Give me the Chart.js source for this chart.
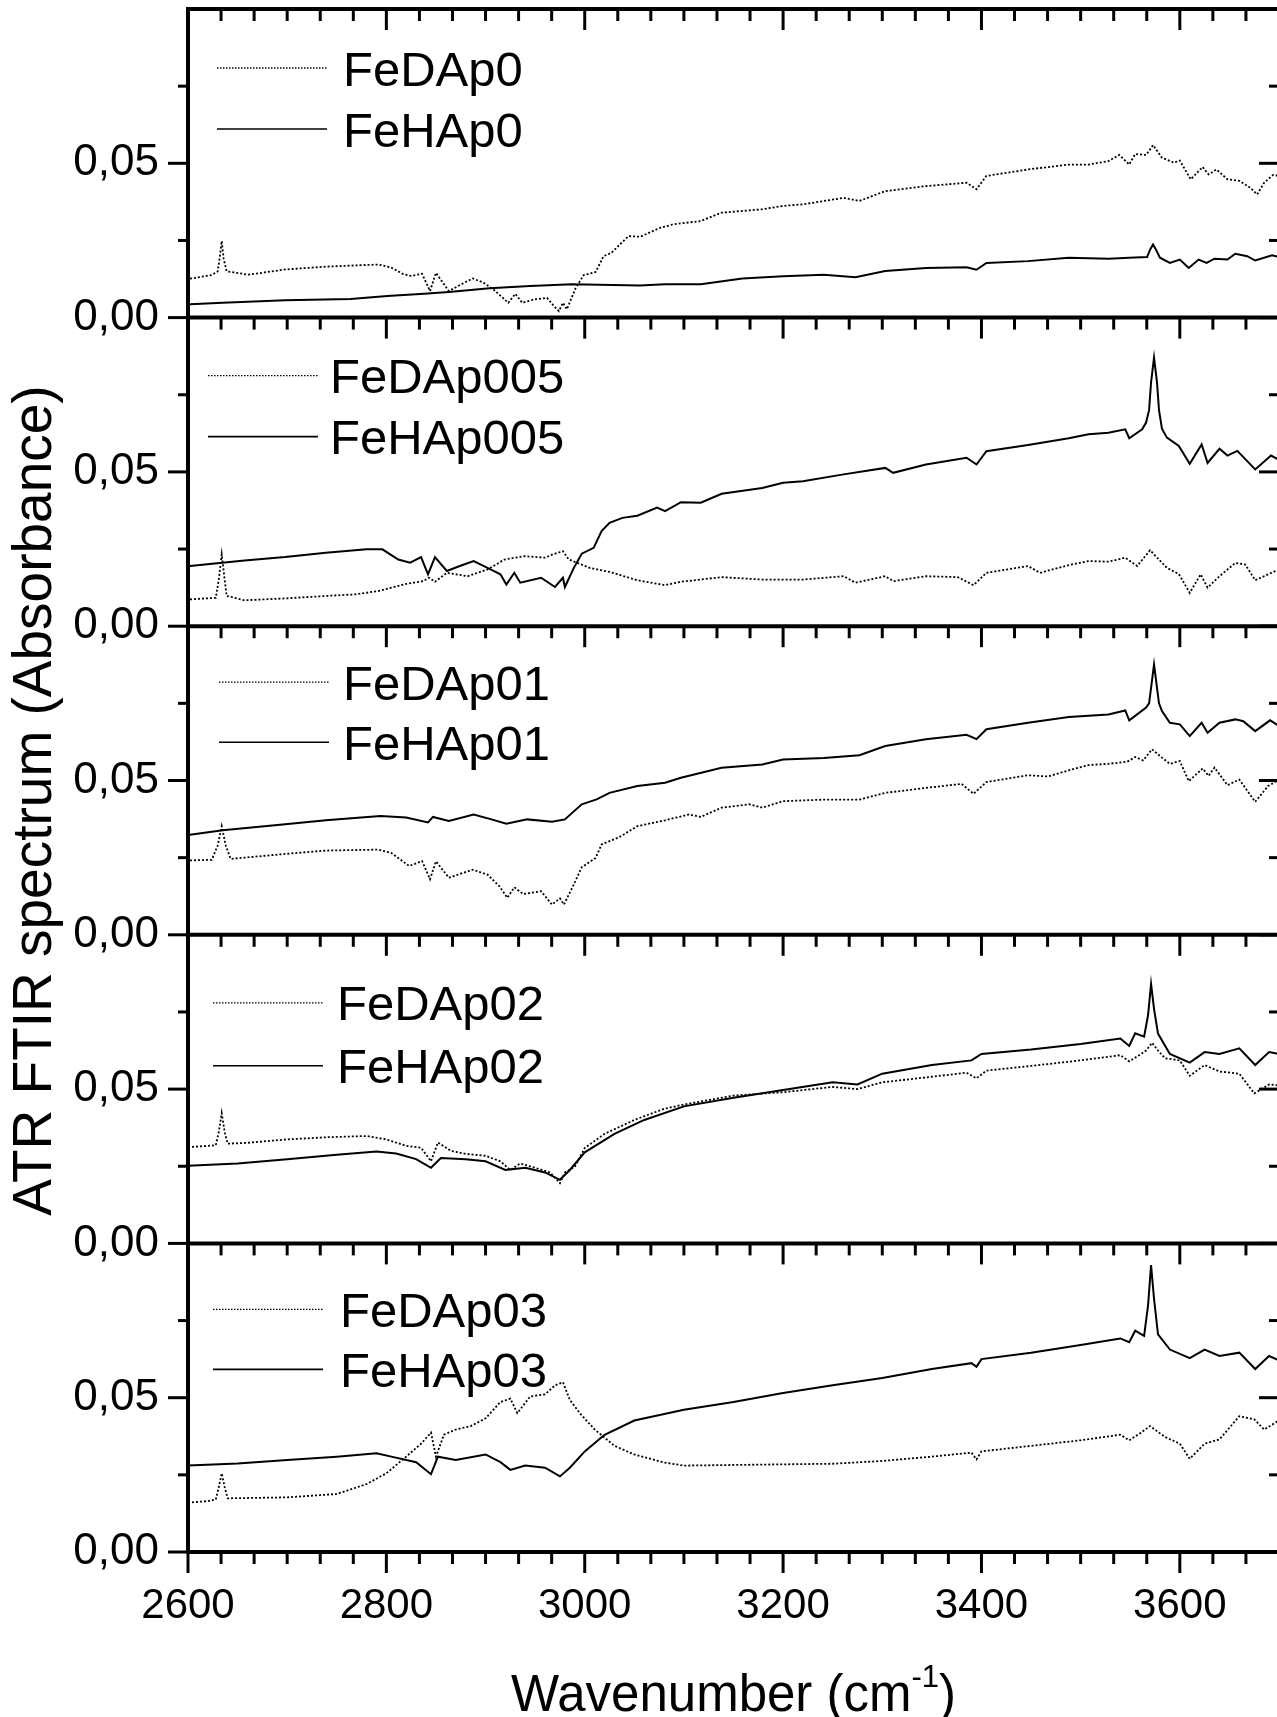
<!DOCTYPE html>
<html><head><meta charset="utf-8">
<script src="https://cdn.jsdelivr.net/npm/chart.js@4.4.1/dist/chart.umd.min.js"></script>
<style>
html,body{margin:0;padding:0;background:#fff;overflow:hidden;width:1277px;height:1717px}
#wrap{position:absolute;left:0;top:0;width:1290px;height:1717px}
canvas{display:block}
</style></head>
<body><div id="wrap"><canvas id="c" width="1290" height="1717"></canvas></div>
<script>
// ---------------- DATA ----------------
const legendNames = [
  ['FeDAp0','FeHAp0'],
  ['FeDAp005','FeHAp005'],
  ['FeDAp01','FeHAp01'],
  ['FeDAp02','FeHAp02'],
  ['FeDAp03','FeHAp03']
];
const xTickValues = [2600, 2800, 3000, 3200, 3400, 3600];
const xTickLabels = ['2600', '2800', '3000', '3200', '3400', '3600'];
const yTickValues = [0, 0.05];
const yTickLabels = ['0,00', '0,05'];
const xTitle = 'Wavenumber (cm';
const xTitleSup = '-1';
const yTitle = 'ATR FTIR spectrum (Absorbance)';

// Panel 1
const feDAp0_x = [2602,2624,2630,2632,2634,2636,2639,2661,2698,2739,2768,2792,2805,2817,2825,2836,2844,2850,2857,2863,2875,2887,2898,2908,2923,2930,2937,2949,2962,2968,2974,2978,2982,2991,2999,3011,3019,3027,3044,3056,3076,3089,3117,3138,3179,3200,3220,3261,3277,3303,3344,3385,3395,3405,3447,3488,3508,3528,3539,3549,3555,3566,3573,3582,3594,3600,3611,3623,3629,3637,3648,3660,3671,3678,3685,3694,3700];
const feDAp0_y = [.0126,.0138,.0150,.0195,.0248,.0190,.0150,.0139,.0156,.0165,.0169,.0172,.0162,.0141,.0135,.0142,.0086,.0145,.0113,.0086,.0107,.0127,.0113,.0091,.0048,.0077,.0048,.0059,.0064,.0041,.0021,.0048,.0027,.0097,.0138,.0148,.0199,.0210,.0264,.0262,.0291,.0302,.0313,.0340,.0351,.0362,.0367,.0388,.0378,.0410,.0426,.0437,.0416,.0459,.0480,.0496,.0496,.0507,.0527,.0496,.0530,.0527,.0559,.0518,.0502,.0509,.0448,.0488,.0464,.0480,.0448,.0443,.0421,.0399,.0437,.0462,.0459];
const feHAp0_x = [2602,2635,2698,2764,2801,2838,2863,2904,2945,2987,3056,3081,3117,3159,3200,3241,3273,3303,3344,3385,3395,3405,3447,3488,3528,3549,3567,3570,3573,3576,3580,3590,3600,3609,3619,3627,3635,3648,3656,3668,3676,3693,3700];
const feHAp0_y = [.0043,.0048,.0056,.0060,.0070,.0077,.0083,.0095,.0102,.0108,.0104,.0108,.0108,.0127,.0134,.0139,.0131,.0151,.0161,.0163,.0155,.0177,.0183,.0194,.0191,.0194,.0196,.0220,.0237,.0220,.0194,.0177,.0188,.0161,.0188,.0177,.0191,.0188,.0207,.0199,.0185,.0202,.0196];

// Panel 2
const feDAp005_x = [2602,2628,2631,2634,2637,2639,2657,2698,2739,2768,2792,2820,2837,2843,2849,2861,2882,2902,2919,2939,2960,2968,2978,2984,3005,3025,3053,3081,3097,3138,3179,3220,3261,3273,3303,3311,3344,3376,3392,3405,3447,3459,3488,3508,3528,3545,3557,3570,3587,3599,3610,3621,3628,3640,3656,3666,3676,3689,3700];
const feDAp005_y = [.0087,.0092,.0150,.0233,.0150,.0098,.0084,.0090,.0098,.0103,.0114,.0137,.0146,.0157,.0144,.0173,.0162,.0184,.0216,.0227,.0222,.0233,.0243,.0216,.0189,.0176,.0149,.0133,.0144,.0159,.0151,.0151,.0162,.0141,.0162,.0146,.0162,.0159,.0133,.0173,.0195,.0173,.0198,.0211,.0209,.0222,.0195,.0246,.0189,.0169,.0108,.0168,.0125,.0162,.0205,.0200,.0149,.0168,.0184];
const feHAp005_x = [2602,2657,2698,2739,2780,2796,2812,2824,2835,2842,2849,2861,2874,2888,2902,2915,2921,2929,2935,2956,2970,2978,2980,2989,2997,3009,3017,3025,3038,3053,3073,3081,3097,3117,3138,3179,3200,3220,3261,3303,3311,3344,3385,3395,3405,3447,3488,3508,3528,3545,3549,3562,3566,3569,3571,3574,3577,3579,3582,3587,3599,3610,3622,3628,3640,3648,3658,3676,3692,3700];
const feHAp005_y = [.0195,.0213,.0224,.0238,.0249,.0249,.0216,.0206,.0224,.0168,.0224,.0179,.0195,.0211,.0189,.0168,.0135,.0173,.0141,.0157,.0127,.0157,.0127,.0189,.0235,.0254,.0308,.0335,.0351,.0358,.0384,.0373,.0402,.0400,.0429,.0448,.0465,.0470,.0492,.0513,.0497,.0524,.0546,.0524,.0567,.0587,.0609,.0622,.0627,.0638,.0609,.0638,.0660,.0700,.0790,.0870,.0790,.0700,.0640,.0611,.0584,.0526,.0589,.0529,.0575,.0553,.0568,.0508,.0553,.0539];

// Panel 3
const feDAp01_x = [2602,2624,2630,2634,2638,2643,2698,2739,2792,2805,2823,2836,2844,2850,2863,2887,2902,2914,2922,2929,2938,2956,2967,2975,2979,2989,2997,3011,3017,3034,3053,3081,3105,3117,3138,3166,3179,3200,3241,3277,3303,3344,3380,3392,3405,3447,3467,3488,3508,3528,3547,3555,3563,3572,3582,3590,3600,3609,3623,3629,3635,3648,3660,3676,3689,3700];
const feDAp01_y = [.0241,.0243,.0290,.0352,.0290,.0246,.0262,.0273,.0276,.0265,.0223,.0239,.0180,.0238,.0185,.0211,.0195,.0157,.0120,.0154,.0132,.0141,.0098,.0118,.0098,.0163,.0219,.0249,.0293,.0315,.0352,.0371,.0390,.0382,.0412,.0423,.0412,.0433,.0438,.0438,.0460,.0476,.0489,.0457,.0495,.0517,.0513,.0533,.0550,.0554,.0561,.0576,.0565,.0601,.0574,.0554,.0563,.0498,.0539,.0515,.0542,.0485,.0503,.0431,.0482,.0503];
const feHAp01_x = [2602,2635,2698,2739,2794,2820,2842,2847,2863,2888,2906,2921,2942,2967,2980,2997,3012,3025,3053,3081,3097,3138,3179,3200,3241,3277,3303,3344,3385,3395,3405,3447,3488,3528,3545,3549,3566,3569,3571,3574,3577,3579,3582,3590,3600,3610,3622,3628,3640,3656,3664,3676,3691,3700];
const feHAp01_y = [.0324,.0339,.0358,.0371,.0385,.0380,.0364,.0382,.0369,.0390,.0374,.0360,.0374,.0366,.0374,.0423,.0439,.0460,.0482,.0493,.0509,.0541,.0552,.0568,.0573,.0582,.0612,.0634,.0648,.0634,.0666,.0687,.0706,.0714,.0727,.0695,.0736,.0750,.0800,.0876,.0800,.0750,.0725,.0687,.0682,.0644,.0687,.0655,.0687,.0698,.0692,.0660,.0695,.0677];

// Panel 4
const feDAp02_x = [2600,2620,2628,2631,2634,2637,2640,2660,2700,2740,2780,2800,2820,2835,2845,2852,2865,2880,2900,2915,2925,2935,2950,2965,2975,2980,2990,3000,3020,3050,3080,3100,3150,3200,3250,3275,3300,3350,3385,3395,3405,3450,3500,3540,3549,3560,3566,3572,3578,3585,3600,3610,3625,3640,3660,3675,3690,3700];
const feDAp02_y = [.0312,.0316,.0318,.0360,.0422,.0360,.0323,.0326,.0337,.0344,.0348,.0337,.0316,.0310,.0266,.0327,.0300,.0290,.0284,.0266,.0238,.0259,.0245,.0230,.0195,.0230,.0248,.0309,.0355,.0400,.0436,.0450,.0479,.0490,.0507,.0500,.0522,.0540,.0553,.0535,.0560,.0575,.0593,.0610,.0590,.0612,.0625,.0650,.0625,.0600,.0593,.0543,.0578,.0557,.0550,.0486,.0515,.0512];
const feHAp02_x = [2600,2650,2700,2750,2790,2810,2830,2845,2855,2880,2900,2920,2940,2960,2975,2985,3000,3030,3060,3100,3150,3200,3250,3275,3300,3350,3390,3400,3450,3500,3540,3549,3555,3564,3568,3571,3574,3578,3590,3610,3625,3640,3660,3676,3690,3700];
const feHAp02_y = [.0252,.0259,.0273,.0287,.0298,.0291,.0273,.0245,.0277,.0273,.0266,.0238,.0245,.0230,.0206,.0238,.0295,.0355,.0400,.0444,.0472,.0497,.0522,.0515,.0550,.0578,.0593,.0614,.0628,.0646,.0664,.0640,.0681,.0670,.0740,.0841,.0760,.0680,.0614,.0586,.0620,.0614,.0632,.0578,.0620,.0614];

// Panel 5
const feDAp03_x = [2600,2620,2628,2631,2634,2637,2640,2700,2750,2780,2800,2820,2835,2845,2850,2858,2870,2885,2900,2915,2925,2932,2945,2960,2970,2978,2985,2995,3010,3030,3050,3080,3100,3150,3200,3250,3300,3350,3390,3395,3400,3450,3500,3540,3549,3560,3570,3585,3600,3610,3625,3640,3660,3675,3685,3700];
const feDAp03_y = [.0160,.0165,.0170,.0210,.0255,.0210,.0174,.0177,.0188,.0220,.0255,.0309,.0351,.0387,.0309,.0380,.0397,.0408,.0433,.0486,.0497,.0450,.0504,.0511,.0540,.0550,.0493,.0450,.0397,.0344,.0316,.0290,.0280,.0282,.0284,.0286,.0295,.0309,.0322,.0300,.0326,.0344,.0362,.0380,.0362,.0385,.0408,.0373,.0351,.0302,.0351,.0365,.0440,.0430,.0397,.0426];
const feHAp03_x = [2600,2650,2700,2750,2790,2805,2830,2845,2852,2870,2900,2915,2925,2940,2960,2975,2985,3000,3020,3050,3100,3150,3200,3250,3300,3350,3390,3395,3400,3450,3500,3540,3549,3555,3564,3568,3571,3574,3578,3590,3610,3625,3640,3660,3676,3690,3700];
const feHAp03_y = [.0280,.0287,.0298,.0309,.0320,.0309,.0291,.0252,.0309,.0298,.0316,.0291,.0266,.0280,.0273,.0245,.0273,.0326,.0380,.0426,.0461,.0486,.0515,.0540,.0564,.0593,.0612,.0600,.0625,.0646,.0671,.0692,.0680,.0717,.0700,.0800,.0930,.0820,.0705,.0656,.0628,.0656,.0635,.0646,.0593,.0635,.0621];

const dSeries = [[feDAp0_x,feDAp0_y],[feDAp005_x,feDAp005_y],[feDAp01_x,feDAp01_y],[feDAp02_x,feDAp02_y],[feDAp03_x,feDAp03_y]];
const hSeries = [[feHAp0_x,feHAp0_y],[feHAp005_x,feHAp005_y],[feHAp01_x,feHAp01_y],[feHAp02_x,feHAp02_y],[feHAp03_x,feHAp03_y]];

// ---------------- STYLE / LAYOUT ----------------
const X_MIN = 2600, X_MAX = 3700, Y_MIN = 0, Y_MAX = 0.1;
const FONT = "'Liberation Sans', Arial, Helvetica, sans-serif";
const panelIds = ['y0','y1','y2','y3','y4'];
// legend placement per panel: [lineStartX, lineEndX, textX, row1 offset, row2 offset]
const legendLayout = [
  [217, 327, 343, 59, 120],
  [208, 318, 330, 58, 119],
  [219, 329, 343, 56, 116],
  [213, 323, 337, 68, 131],
  [213, 323, 340, 66, 126]
];

function pts(xs, ys) { return xs.map((x, i) => ({ x: x, y: ys[i] })); }

const datasets = [];
panelIds.forEach((id, i) => {
  datasets.push({
    label: legendNames[i][0], data: pts(dSeries[i][0], dSeries[i][1]), yAxisID: id,
    borderColor: '#000', borderWidth: 1.8, borderDash: [2, 2], pointRadius: 0, tension: 0, fill: false
  });
  datasets.push({
    label: legendNames[i][1], data: pts(hSeries[i][0], hSeries[i][1]), yAxisID: id,
    borderColor: '#000', borderWidth: 2, pointRadius: 0, tension: 0, fill: false
  });
});

const scales = {
  x: {
    type: 'linear', position: 'bottom', min: X_MIN, max: X_MAX,
    afterFit(s) { s.height = 165; s.paddingLeft = 0; s.paddingRight = 0; },
    grid: { display: false, drawTicks: true, tickLength: 21 },
    border: { display: false },
    ticks: {
      stepSize: 200, includeBounds: false, autoSkip: false, maxRotation: 0, padding: 8,
      color: '#000', font: { family: FONT, size: 42 },
      callback(v) { const k = xTickValues.indexOf(v); return k >= 0 ? xTickLabels[k] : ''; }
    }
  }
};
panelIds.forEach((id, i) => {
  scales[id] = {
    type: 'linear', position: 'left', stack: 'panels', stackWeight: 1, weight: 10 - i,
    min: Y_MIN, max: Y_MAX,
    afterFit(s) { s.width = 188; s.paddingTop = 0; s.paddingBottom = 0; },
    grid: { display: false, drawTicks: true, tickLength: 20 },
    border: { display: false },
    ticks: {
      stepSize: 0.025, autoSkip: false, padding: 9, color: '#000',
      font: { family: FONT, size: 44 },
      callback(v) {
        for (let k = 0; k < yTickValues.length; k++) if (Math.abs(v - yTickValues[k]) < 1e-9) return yTickLabels[k];
        return '';
      }
    }
  };
});

function seg(ctx, x1, y1, x2, y2) { ctx.beginPath(); ctx.moveTo(x1, y1); ctx.lineTo(x2, y2); ctx.stroke(); }

const framePlugin = {
  id: 'frame',
  afterDraw(chart) {
    const ctx = chart.ctx, ca = chart.chartArea, xs = chart.scales.x;
    ctx.save();
    ctx.strokeStyle = '#000'; ctx.fillStyle = '#000'; ctx.lineCap = 'butt';
    const hLines = panelIds.map(id => chart.scales[id].getPixelForValue(Y_MAX));
    hLines.push(chart.scales[panelIds[panelIds.length - 1]].getPixelForValue(Y_MIN));
    // x ticks (pointing down from each horizontal line)
    ctx.lineWidth = 3;
    const minorStep = 200 / 6;
    for (const yy of hLines) {
      for (let k = 0; ; k++) {
        const v = X_MIN + k * minorStep;
        if (v > X_MAX - 1) break;
        const px = xs.getPixelForValue(v);
        const len = (k % 6 === 0) ? 21 : 12;
        seg(ctx, px, yy, px, yy + len);
      }
    }
    // y ticks: left outward, right inward
    panelIds.forEach(id => {
      const s = chart.scales[id];
      [0, 0.025, 0.05, 0.075].forEach((v, j) => {
        const py = s.getPixelForValue(v);
        const len = (j % 2 === 0) ? 20 : 10;
        seg(ctx, ca.left, py, ca.left - len, py);
        seg(ctx, ca.right, py, ca.right - len, py);
      });
    });
    // frame lines
    ctx.lineWidth = 4;
    for (const yy of hLines) seg(ctx, ca.left - 2, yy, ca.right + 2, yy);
    seg(ctx, ca.left, hLines[0] - 2, ca.left, hLines[hLines.length - 1] + 2);
    seg(ctx, ca.right, hLines[0] - 2, ca.right, hLines[hLines.length - 1] + 2);

    // legends
    panelIds.forEach((id, i) => {
      const s = chart.scales[id];
      const L = legendLayout[i];
      const top = s.getPixelForValue(Y_MAX);
      const rows = [top + L[3], top + L[4]];
      ctx.font = '49px ' + FONT;
      ctx.textAlign = 'left'; ctx.textBaseline = 'alphabetic';
      ctx.lineWidth = 1.3; ctx.setLineDash([1.5, 1.5]);
      seg(ctx, L[0], rows[0], L[1], rows[0]);
      ctx.setLineDash([]);
      ctx.lineWidth = 1.6;
      seg(ctx, L[0], rows[1], L[1], rows[1]);
      ctx.fillText(legendNames[i][0], L[2], rows[0] + 49 * 0.358);
      ctx.fillText(legendNames[i][1], L[2], rows[1] + 49 * 0.358);
    });

    // y title
    ctx.save();
    ctx.translate(51, (hLines[0] + hLines[hLines.length - 1]) / 2 + 20);
    ctx.rotate(-Math.PI / 2);
    ctx.font = '55px ' + FONT; ctx.textAlign = 'center'; ctx.textBaseline = 'alphabetic';
    ctx.fillText(yTitle, 0, 0);
    ctx.restore();

    // x title with superscript
    const cx = (ca.left + ca.right) / 2;
    const base = 1711;
    ctx.font = '51px ' + FONT;
    const w1 = ctx.measureText(xTitle).width, w3 = ctx.measureText(')').width;
    ctx.font = '31px ' + FONT;
    const w2 = ctx.measureText(xTitleSup).width;
    const x0 = cx - (w1 + w2 + w3) / 2;
    ctx.textAlign = 'left';
    ctx.font = '51px ' + FONT; ctx.fillText(xTitle, x0, base);
    ctx.font = '31px ' + FONT; ctx.fillText(xTitleSup, x0 + w1, base - 24);
    ctx.font = '51px ' + FONT; ctx.fillText(')', x0 + w1 + w2, base);
    ctx.restore();
  }
};

new Chart(document.getElementById('c'), {
  type: 'line',
  data: { datasets: datasets },
  options: {
    responsive: false, animation: false, devicePixelRatio: 1,
    layout: { padding: { top: 9, right: 11, left: 0, bottom: 0 } },
    plugins: { legend: { display: false }, tooltip: { enabled: false }, title: { display: false } },
    scales: scales
  },
  plugins: [framePlugin]
});
</script></body></html>
